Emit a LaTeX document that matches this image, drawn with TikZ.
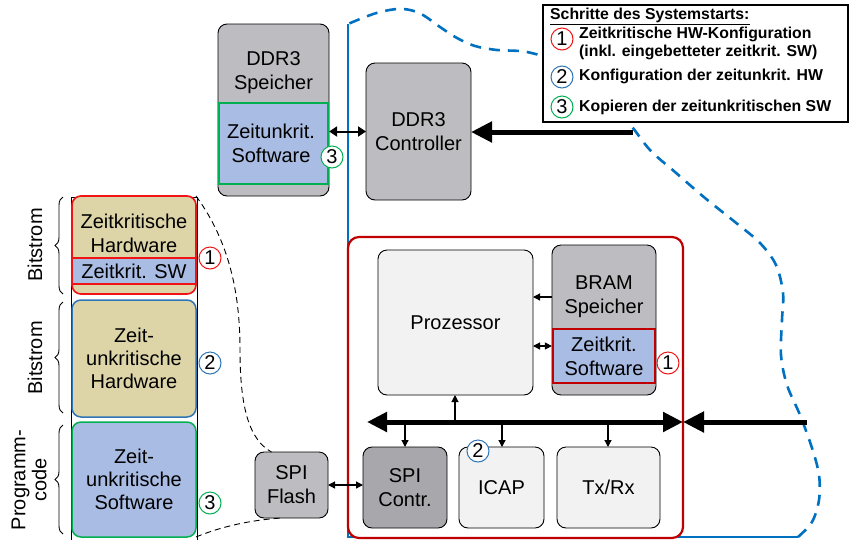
\documentclass[tikz,border=0pt]{standalone}
\usepackage{fontspec}
\setmainfont{Liberation Sans}
\usetikzlibrary{arrows.meta,decorations.pathreplacing}
\definecolor{bgray}{RGB}{189,188,192}
\definecolor{dgray}{RGB}{168,167,171}
\definecolor{lgray}{RGB}{242,242,242}
\definecolor{tanfill}{RGB}{221,213,168}
\definecolor{lblue}{RGB}{169,188,227}
\definecolor{bred}{RGB}{240,20,20}
\definecolor{dred}{RGB}{192,0,0}
\definecolor{mblue}{RGB}{46,117,182}
\definecolor{dblue}{RGB}{0,112,192}
\definecolor{mgreen}{RGB}{0,176,80}
\newcommand{\fmain}{\fontsize{20}{24}\selectfont}
\newcommand{\fmaint}{\fontsize{20}{23}\selectfont}
\newcommand{\fleg}{\fontsize{15.8}{17.5}\selectfont\bfseries}
\begin{document}
\begin{tikzpicture}[x=1pt,y=-1pt,
  box/.style={draw=black, line width=0.9pt, rounded corners=9pt, inner sep=0pt, outer sep=0pt},
  txt/.style={align=center, font=\fmain, inner sep=0pt},
  num/.style={circle, draw=#1, line width=1pt, fill=white, inner sep=0pt, minimum size=22pt, font=\fontsize{20}{20}\selectfont},
  sarr/.style={line width=1.2pt, -{Triangle[length=7pt,width=7pt]}},
  darr/.style={line width=1.2pt, {Triangle[length=7pt,width=7pt]}-{Triangle[length=7pt,width=7pt]}},
  ddarr/.style={line width=2pt, {Triangle[length=8pt,width=10pt]}-{Triangle[length=8pt,width=10pt]}},
  bigarr/.style={line width=5pt, -{Triangle[length=21pt,width=20pt]}},
  bigdarr/.style={line width=5pt, {Triangle[length=20pt,width=19pt]}-{Triangle[length=20pt,width=19pt]}},
  legtxt/.style={anchor=west, align=left, font=\fleg, inner sep=0pt},
  brc/.style={decorate, decoration={brace, amplitude=8pt}, line width=0.9pt}
]
\useasboundingbox (0,0) rectangle (849,539);

% blue region
\coordinate (bTL) at (348,24);
\coordinate (bBL) at (348,537);
\coordinate (bBR) at (798,537);
\draw[dblue, line width=2.6pt] (bTL) -- (bBL) -- (bBR);
\draw[dblue, line width=2.6pt, dash pattern=on 11pt off 8pt] plot[smooth, tension=0.55] coordinates {
 (798,537) (812,522) (819,500) (819,475) (812,448) (800,415) (787,385) (781,355) (782,320) (783,293) (776,265) (760,243) (735,222) (705,198) (675,172) (650,150) (628,122) (595,88) (560,63) (527,52) (497,50) (475,46) (457,38) (440,27) (423,15) (410,10) (397,9) (380,12) (365,17) (348,24)};

% legend
\node[draw, fill=white, line width=1.2pt, minimum width=305pt, minimum height=117pt, anchor=north west, inner sep=0pt, outer sep=0pt] (leg) at (543,5) {};
\node[legtxt] (lt) at (550,16) {\underline{Schritte des Systemstarts:}};
\node[num=bred] (l1) at (562,39) {1};
\node[legtxt] (l1t) at (579,43.5) {Zeitkritische HW-Konfiguration\\(inkl. eingebetteter zeitkrit. SW)};
\node[num=mblue] (l2) at (562,77) {2};
\node[legtxt] (l2t) at (579,76) {Konfiguration der zeitunkrit. HW};
\node[num=mgreen] (l3) at (562,107) {3};
\node[legtxt] (l3t) at (579,107) {Kopieren der zeitunkritischen SW};

% DDR3 Speicher
\node[box, fill=bgray, minimum width=111pt, minimum height=172pt] (ddr) at (273.5,110) {};
\node[txt] (ddrt) at (273.5,73) {DDR3\\Speicher};
\node[draw=mgreen, line width=2.2pt, fill=lblue, minimum width=109pt, minimum height=81pt, inner sep=0pt] (ddrsw) at (273.5,143.5) {};
\node[txt] (ddrswt) at (271,143) {Zeitunkrit.\\Software};
\node[num=mgreen] (n3a) at (332,157) {3};

% DDR3 Controller
\node[box, txt, fill=bgray, minimum width=105pt, minimum height=137pt] (ctrl) at (418.5,131.5) {DDR3\\Controller};
\draw[ddarr] (ddrsw.east |- ctrl.west) -- (ctrl.west);
\coordinate (legB) at (633,132);
\draw[bigarr] (legB) -- (ctrl.east |- legB);

% FPGA
\node[box, draw=dred, line width=2.2pt, fill=white, rounded corners=11pt, minimum width=335pt, minimum height=301pt] (fpga) at (515.5,387.5) {};
\node[box, txt, fill=lgray, minimum width=155pt, minimum height=145pt] (proz) at (455.5,322.5) {Prozessor};
\node[box, fill=bgray, minimum width=104pt, minimum height=150pt] (bram) at (604,320) {};
\node[txt] (bramt) at (604,297) {BRAM\\Speicher};
\node[txt, draw=dred, line width=2.2pt, fill=lblue, minimum width=102pt, minimum height=54pt] (bramsw) at (604,356) {Zeitkrit.\\Software};
\node[num=bred] (n1b) at (668,363) {1};
\coordinate (y297) at (0,297);
\coordinate (y346) at (0,346);
\draw[sarr] (bram.west |- y297) -- (proz.east |- y297);
\draw[darr] (proz.east |- y346) -- (bramsw.west |- y346);

\node[box, txt, fill=dgray, minimum width=84pt, minimum height=81pt] (spic) at (405,487.5) {SPI\\Contr.};
\node[box, txt, fill=lgray, minimum width=85pt, minimum height=81pt] (icap) at (501.5,487.5) {ICAP};
\node[box, txt, fill=lgray, minimum width=103pt, minimum height=81pt] (txrx) at (608.5,487.5) {Tx/Rx};
\node[num=mblue] (n2b) at (478,451) {2};

% bus
\coordinate (busL) at (367,422);
\coordinate (busR) at (683,422);
\coordinate (extR) at (807,422);
\draw[bigdarr] (busL) -- (busR);
\draw[bigarr] (extR) -- (busR);
\coordinate (bp) at (455,422);
\coordinate (b1) at (405,422);
\coordinate (b2) at (502,422);
\coordinate (b3) at (608,422);
\draw[sarr] (bp) -- (bp |- proz.south);
\draw[sarr] (b1) -- (b1 |- spic.north);
\draw[sarr] (b2) -- (b2 |- icap.north);
\draw[sarr] (b3) -- (b3 |- txrx.north);

% SPI Flash
\node[box, txt, fill=bgray, minimum width=73pt, minimum height=66pt] (spif) at (291.5,485) {SPI\\Flash};
\draw[darr] (spif.east) -- (spif.east -| spic.west);

% left column
\draw[line width=0.9pt] (71,197) rectangle (197,545);
\node[box, draw=bred, line width=1.7pt, fill=tanfill, minimum width=124pt, minimum height=98pt] (zkhw) at (134,245) {};
\node[txt, draw=bred, line width=1.7pt, fill=lblue, minimum width=124pt, minimum height=26pt] (zksw) at (134,271) {Zeitkrit. SW};
\node[txt] (zkhwt) at (134,233) {Zeitkritische\\Hardware};
\node[box, txt, font=\fmaint, draw=mblue, line width=1.5pt, fill=tanfill, minimum width=124pt, minimum height=117pt] (zuhw) at (134,358.5) {Zeit-\\unkritische\\Hardware};
\node[box, txt, font=\fmaint, draw=mgreen, line width=1.5pt, fill=lblue, minimum width=124pt, minimum height=115pt] (zusw) at (134,479.5) {Zeit-\\unkritische\\Software};
\node[num=bred] (n1a) at (210,258) {1};
\node[num=mblue] (n2a) at (210,363) {2};
\node[num=mgreen] (n3b) at (210,503) {3};

% braces
\draw[brc] (63,294) -- (63,197);
\draw[brc] (63,413) -- (63,302);
\draw[brc] (63,534) -- (63,425);
\node[txt, rotate=90] (bs1) at (35,245) {Bitstrom};
\node[txt, rotate=90] (bs2) at (35,358) {Bitstrom};
\node[txt, rotate=90, font=\fontsize{20}{21}\selectfont] (pc) at (29,480) {Programm-\\code};

% dashed links
\draw[line width=0.9pt, dash pattern=on 6pt off 4pt] (zkhw.north east) .. controls (232,245) and (240,300) .. (240,350) .. controls (240,410) and (250,440) .. ([xshift=-20pt]spif.north);
\draw[line width=0.9pt, dash pattern=on 6pt off 4pt] (zusw.south east) .. controls (220,527) and (250,520) .. ([xshift=-10pt]spif.south);
\end{tikzpicture}
\end{document}
